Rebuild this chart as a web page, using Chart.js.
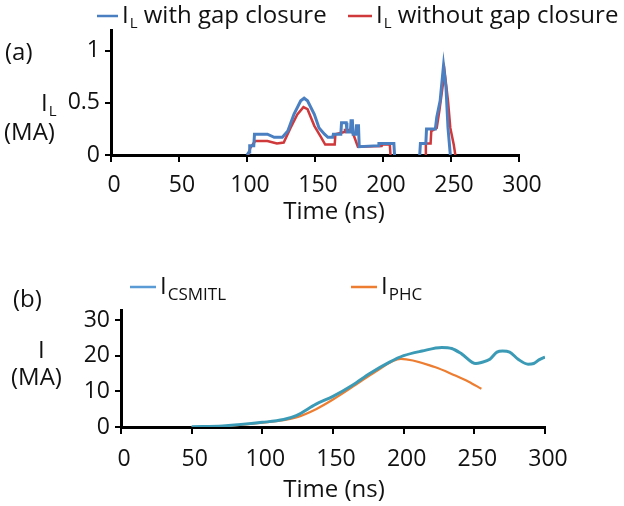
<!DOCTYPE html>
<html>
<head>
<meta charset="utf-8">
<script src="https://cdn.jsdelivr.net/npm/chart.js@4.4.1/dist/chart.umd.min.js"></script>
<style>
  html, body { margin: 0; padding: 0; background: #fff; }
  #wrap { position: relative; width: 624px; height: 506px; }
  canvas { position: absolute; left: 0; }
</style>
</head>
<body>
<div id="wrap">
  <canvas id="chartA" width="624" height="250" style="top:0"></canvas>
  <canvas id="chartB" width="624" height="256" style="top:250px"></canvas>
</div>
<script>
// (a) load current, with / without gap closure (null = no trace drawn)
const tWith = [100, 101.5, 102, 105, 105.5, 115, 120, 126, 130, 134.5, 139.5, 142, 144.5, 149.5, 153, 157, 159.5, 163, 163.5, 169, 169.5, 173, 173.5, 176, 176.5, 177.5, 178, 180, 180.5, 182, 182.5, 196.5, 197, 208, 208.5, 209, 227, 227.5, 231.5, 232, 238.5, 239.5, 242, 244.5, 246.3, 247.8, 249.5];
const iWith = [0, 0.03, 0.09, 0.09, 0.2, 0.2, 0.17, 0.17, 0.23, 0.39, 0.52, 0.545, 0.52, 0.39, 0.26, 0.2, 0.17, 0.17, 0.2, 0.2, 0.31, 0.31, 0.22, 0.22, 0.33, 0.33, 0.2, 0.2, 0.28, 0.28, 0.08, 0.09, 0.11, 0.11, 0, null, 0, 0.11, 0.11, 0.25, 0.25, 0.36, 0.52, 0.86, 0.65, 0.26, 0];

const tWithout = [101, 102.5, 106, 115, 122, 127, 132, 137, 141.5, 144.5, 149.5, 154.5, 157.5, 164.5, 165, 171.5, 172, 177, 179, 181.5, 199, 199.5, 205, 205.5, 206, 231, 231.5, 235, 235.5, 239.5, 241.5, 245.3, 247.8, 249.5, 252, 253.2];
const iWithout = [0, 0.07, 0.135, 0.135, 0.11, 0.12, 0.26, 0.39, 0.46, 0.44, 0.28, 0.17, 0.1, 0.1, 0.2, 0.22, 0.24, 0.24, 0.17, 0.08, 0.087, 0.1, 0.1, 0, null, 0, 0.11, 0.11, 0.23, 0.26, 0.43, 0.8, 0.52, 0.26, 0.1, 0];

// (b) CSMITL and PHC currents
const tCsmitl = [50, 72, 100, 115, 124, 138, 150, 164, 176, 190, 200, 213, 227, 234, 241, 251, 255, 261, 266, 270, 275, 281, 288, 292, 296, 300];
const iCsmitl = [0.05, 0.3, 1.3, 2.1, 3.2, 6.4, 8.6, 11.8, 15, 18.2, 20, 21.3, 22.3, 22, 20.5, 17.8, 18.1, 19, 21, 21.3, 21, 19, 17.6, 17.8, 18.9, 19.6];

const tPhc = [50, 72, 100, 124, 138, 150, 166, 180, 198, 222, 236, 246, 255];
const iPhc = [0, 0.2, 1.2, 2.7, 5, 7.7, 11.8, 15.5, 19.1, 16.8, 14.5, 12.7, 10.7];

const xTicks = [0, 50, 100, 150, 200, 250, 300];
const yTicksA = [0, 0.5, 1];
const yTicksB = [0, 10, 20, 30];

const FONT = "'Open Sans', sans-serif";
const toXY = (ts, vs) => ts.map((t, i) => ({ x: t, y: vs[i] }));

function drawParts(ctx, x, y, parts) {
  parts.forEach(p => {
    ctx.font = p.size + "px " + FONT;
    ctx.fillText(p.t, x, y + (p.dy || 0));
    x += ctx.measureText(p.t).width + (p.gap || 0);
  });
}

function textPlugin(items, legend) {
  return {
    id: "texts",
    afterDraw(chart) {
      const ctx = chart.ctx;
      ctx.save();
      ctx.textBaseline = "middle";
      ctx.fillStyle = "#111";
      items.forEach(it => {
        ctx.textAlign = it.align || "left";
        drawParts(ctx, it.x, it.y, it.parts);
      });
      ctx.textAlign = "left";
      legend.forEach((lg, i) => {
        ctx.strokeStyle = lg.color || chart.data.datasets[i].borderColor;
        ctx.lineWidth = 2.5;
        ctx.beginPath();
        ctx.moveTo(lg.x1, lg.y);
        ctx.lineTo(lg.x2, lg.y);
        ctx.stroke();
        ctx.fillStyle = "#111";
        drawParts(ctx, lg.tx, lg.y, lg.parts);
      });
      ctx.restore();
    }
  };
}

function xAxis(height, pad) {
  return {
    type: "linear", min: 0, max: 300,
    afterBuildTicks: s => { s.ticks = xTicks.map(v => ({ value: v })); },
    ticks: { color: "#111", font: { family: FONT, size: 23 }, padding: pad, labelOffset: 3, maxRotation: 0, autoSkip: false },
    grid: { display: true, drawOnChartArea: false, drawTicks: true, tickLength: 7, color: "#000", lineWidth: 2 },
    border: { display: true, color: "#000", width: 3 },
    afterFit: s => { s.height = height; }
  };
}

function yAxis(max, ticks, width) {
  return {
    type: "linear", min: 0, max: max,
    afterBuildTicks: s => { s.ticks = ticks.map(v => ({ value: v })); },
    ticks: { color: "#111", font: { family: FONT, size: 23 }, padding: 5, callback: v => String(v) },
    grid: { display: true, drawOnChartArea: false, drawTicks: true, tickLength: 6, color: "#000", lineWidth: 2 },
    border: { display: true, color: "#000", width: 3 },
    afterFit: s => { s.width = width; }
  };
}

new Chart(document.getElementById("chartA"), {
  type: "line",
  data: {
    datasets: [
      { label: "I_L with gap closure", data: toXY(tWith, iWith), borderColor: "#4a7fc1", borderWidth: 3, pointRadius: 0, tension: 0 },
      { label: "I_L without gap closure", data: toXY(tWithout, iWithout), borderColor: "#d0393b", borderWidth: 2.5, pointRadius: 0, tension: 0 }
    ]
  },
  options: {
    responsive: false, animation: false,
    layout: { padding: { top: 30, right: 105, left: 0, bottom: 0 } },
    plugins: { legend: { display: false }, tooltip: { enabled: false } },
    scales: { x: xAxis(95, 10), y: yAxis(1.2, yTicksA, 111) }
  },
  plugins: [textPlugin([
    { x: 5, y: 53, parts: [{ t: "(a)", size: 24 }] },
    { x: 41, y: 104, parts: [{ t: "I", size: 24, gap: 1 }, { t: "L", size: 15, dy: 8 }] },
    { x: 4, y: 133, parts: [{ t: "(MA)", size: 24 }] },
    { x: 334, y: 212, align: "center", parts: [{ t: "Time (ns)", size: 24 }] }
  ], [
    { x1: 97, x2: 118, y: 16, tx: 122, parts: [{ t: "I", size: 24, gap: 1 }, { t: "L", size: 15, dy: 8 }, { t: " with gap closure", size: 24 }] },
    { x1: 348, x2: 372, y: 16, tx: 376, parts: [{ t: "I", size: 24, gap: 1 }, { t: "L", size: 15, dy: 8 }, { t: " without gap closure", size: 24 }] }
  ])]
});

new Chart(document.getElementById("chartB"), {
  type: "line",
  data: {
    datasets: [
      { label: "I_CSMITL", data: toXY(tCsmitl, iCsmitl), borderColor: "#3b9bb6", borderWidth: 3, pointRadius: 0, cubicInterpolationMode: "monotone" },
      { label: "I_PHC", data: toXY(tPhc, iPhc), borderColor: "#ec7d31", borderWidth: 2.2, pointRadius: 0, cubicInterpolationMode: "monotone" }
    ]
  },
  options: {
    responsive: false, animation: false,
    layout: { padding: { top: 60, right: 79, left: 0, bottom: 0 } },
    plugins: { legend: { display: false }, tooltip: { enabled: false } },
    scales: { x: xAxis(79, 12), y: yAxis(32.8, yTicksB, 121) }
  },
  plugins: [textPlugin([
    { x: 13, y: 50, parts: [{ t: "(b)", size: 24 }] },
    { x: 38, y: 101, parts: [{ t: "I", size: 24 }] },
    { x: 11, y: 128, parts: [{ t: "(MA)", size: 24 }] },
    { x: 334, y: 240, align: "center", parts: [{ t: "Time (ns)", size: 24 }] }
  ], [
    { x1: 130, x2: 156, y: 37, tx: 160, color: "#5b9bd5", parts: [{ t: "I", size: 24, gap: 1 }, { t: "CSMITL", size: 17, dy: 8 }] },
    { x1: 351, x2: 377, y: 37, tx: 381, parts: [{ t: "I", size: 24, gap: 1 }, { t: "PHC", size: 17, dy: 8 }] }
  ])]
});
</script>
</body>
</html>
